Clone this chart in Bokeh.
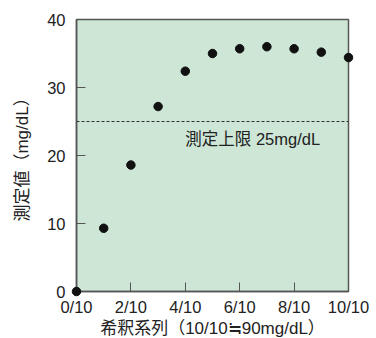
from bokeh.plotting import figure
from bokeh.models import Range1d, FixedTicker, Span, Label
from bokeh.embed import file_html
from bokeh.resources import INLINE

x_vals = [0, 1, 2, 3, 4, 5, 6, 7, 8, 9, 10]
y_vals = [0, 9.3, 18.6, 27.2, 32.4, 35.0, 35.7, 36.0, 35.7, 35.2, 34.4]
x_ticks = [0, 2, 4, 6, 8, 10]
x_tick_labels = ["0/10", "2/10", "4/10", "6/10", "8/10", "10/10"]
y_ticks = [0, 10, 20, 30, 40]
limit_value = 25
limit_label = "測定上限 25mg/dL"
x_title = "希釈系列（10/10≒90mg/dL）"
y_title = "測定値（mg/dL）"

FONT = "'Liberation Sans', 'Noto Sans CJK JP'"
AX = "#555555"

p = figure(width=376, height=338, frame_width=272, frame_height=272,
           x_range=Range1d(0, 10), y_range=Range1d(0, 40),
           output_backend="svg", toolbar_location=None,
           min_border_left=76, min_border_right=28, min_border_top=19, min_border_bottom=47)
p.background_fill_color = "#cde6d6"
p.border_fill_color = "white"
p.outline_line_color = AX
p.outline_line_width = 1.5
p.xgrid.visible = False
p.ygrid.visible = False

p.xaxis.ticker = FixedTicker(ticks=x_ticks)
p.xaxis.major_label_overrides = {t: l for t, l in zip(x_ticks, x_tick_labels)}
p.yaxis.ticker = FixedTicker(ticks=y_ticks)
for ax in (p.xaxis, p.yaxis):
    ax.major_tick_in = 9
    ax.major_tick_out = 0
    ax.minor_tick_in = 0
    ax.minor_tick_out = 0
    ax.axis_line_color = AX
    ax.axis_line_width = 1.5
    ax.major_tick_line_color = AX
    ax.major_tick_line_width = 1
    ax.major_label_text_font = FONT
    ax.major_label_text_font_size = "16.5px"
    ax.major_label_text_color = "#222222"
    ax.axis_label_text_font = FONT
    ax.axis_label_text_font_size = "17px"
    ax.axis_label_text_font_style = "normal"
    ax.axis_label_text_color = "#222222"
p.xaxis.major_label_standoff = 6
p.yaxis.major_label_standoff = 11
p.xaxis.axis_label = x_title
p.yaxis.axis_label = y_title
p.xaxis.axis_label_standoff = 0
p.yaxis.axis_label_standoff = 12

p.add_layout(Span(location=limit_value, dimension="width", line_color="#333333",
                  line_width=1, line_dash="3 2"))
p.add_layout(Label(x=4.0, y=22.4, text=limit_label, text_font=FONT,
                   text_font_size="16.5px", text_color="#222222", text_baseline="middle"))

p.scatter(x_vals, y_vals, size=8.5, color="#111111", level="overlay")

open("out.html", "w").write(file_html(p, INLINE))
